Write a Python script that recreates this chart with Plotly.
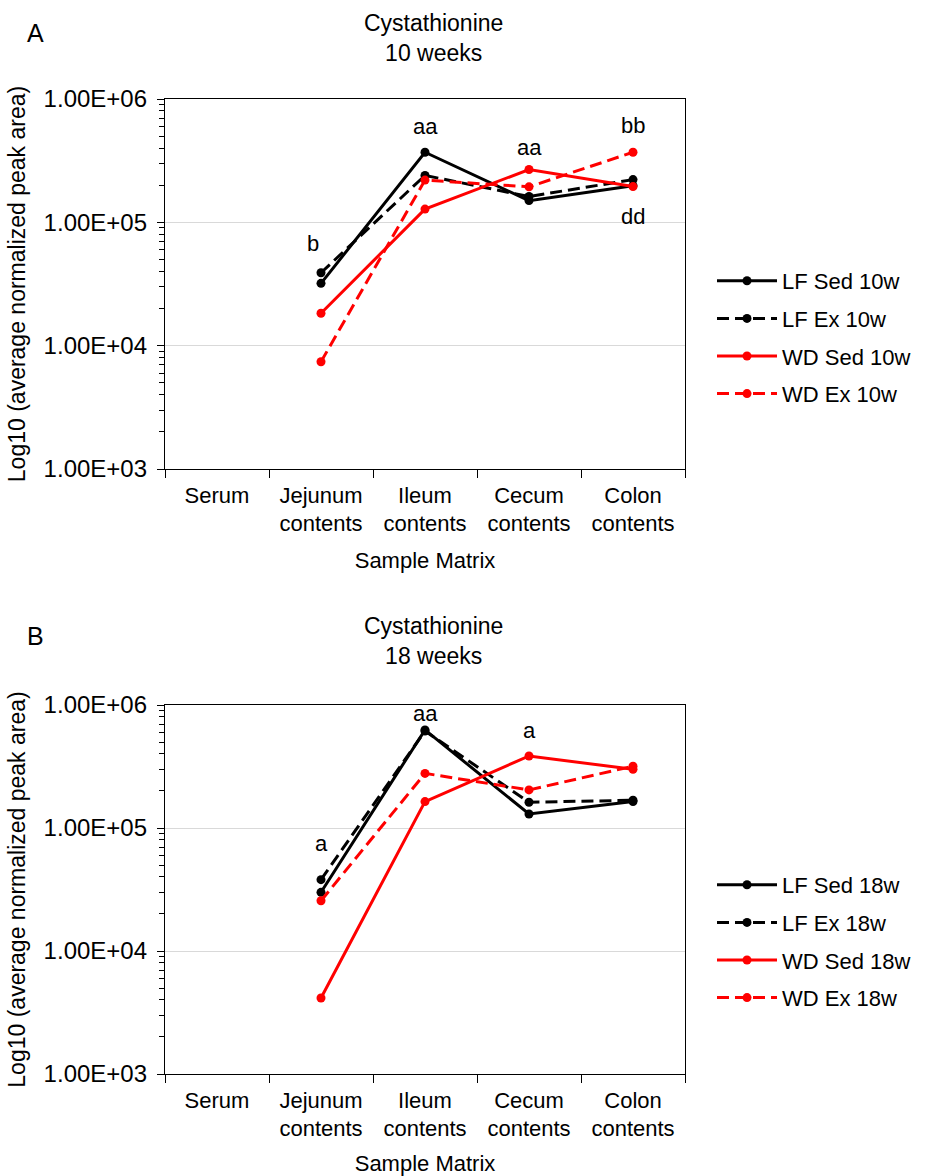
import plotly.graph_objects as go

# Sample matrices along the x axis
categories = ["Serum", "Jejunum contents", "Ileum contents", "Cecum contents", "Colon contents"]
category_labels = ["Serum", "Jejunum<br>contents", "Ileum<br>contents", "Cecum<br>contents", "Colon<br>contents"]
measured = ["Jejunum contents", "Ileum contents", "Cecum contents", "Colon contents"]

# Average normalized peak areas, 10 weeks
lf_sed_10w = [32000, 370000, 150000, 198000]
lf_ex_10w = [39000, 240000, 162000, 222000]
wd_sed_10w = [18300, 128000, 268000, 195000]
wd_ex_10w = [7400, 220000, 194000, 370000]

# Average normalized peak areas, 18 weeks
lf_sed_18w = [30000, 627000, 130000, 164000]
lf_ex_18w = [38000, 615000, 162000, 168000]
wd_sed_18w = [4150, 164000, 385000, 300000]
wd_ex_18w = [25600, 278000, 204000, 318000]

y_tickvals = [1e3, 1e4, 1e5, 1e6]
y_ticktext = ["1.00E+03", "1.00E+04", "1.00E+05", "1.00E+06"]

# Significance letters: (category, log10 position, text, horizontal shift)
letters_10w = [("Jejunum contents", 4.832, "b", -8),
               ("Ileum contents", 5.773, "aa", 0),
               ("Cecum contents", 5.603, "aa", 0),
               ("Colon contents", 5.789, "bb", 0),
               ("Colon contents", 5.051, "dd", 0)]
letters_18w = [("Jejunum contents", 4.878, "a", 0),
               ("Ileum contents", 5.935, "aa", 0),
               ("Cecum contents", 5.791, "a", 0)]

FONT = "Liberation Sans, Arial, sans-serif"
FS = 22
BLACK = "#000000"
RED = "#FF0000"
DASH = "12px,6px"

fig = go.Figure()

series_10w = [("LF Sed 10w", lf_sed_10w, BLACK, "solid"),
              ("LF Ex 10w", lf_ex_10w, BLACK, DASH),
              ("WD Sed 10w", wd_sed_10w, RED, "solid"),
              ("WD Ex 10w", wd_ex_10w, RED, DASH)]
series_18w = [("LF Sed 18w", lf_sed_18w, BLACK, "solid"),
              ("LF Ex 18w", lf_ex_18w, BLACK, DASH),
              ("WD Sed 18w", wd_sed_18w, RED, "solid"),
              ("WD Ex 18w", wd_ex_18w, RED, DASH)]

for name, vals, col, dash in series_10w:
    fig.add_trace(go.Scatter(
        x=measured, y=vals, name=name, mode="lines+markers",
        line=dict(color=col, width=3, dash=dash),
        marker=dict(color=col, size=9, symbol="circle"),
        xaxis="x", yaxis="y", legend="legend", legendgroup=name))

for name, vals, col, dash in series_18w:
    fig.add_trace(go.Scatter(
        x=measured, y=vals, name=name, mode="lines+markers",
        line=dict(color=col, width=3, dash=dash),
        marker=dict(color=col, size=9, symbol="circle"),
        xaxis="x2", yaxis="y2", legend="legend2", legendgroup=name))

minor_vals = [m * 10 ** e for e in range(3, 6) for m in range(2, 10)]

def xaxis_style(anchor):
    return dict(
        type="category", categoryorder="array", categoryarray=categories,
        tickmode="array", tickvals=categories, ticktext=category_labels,
        range=[-0.5, 4.5], tickson="boundaries", ticks="outside", ticklen=8,
        tickcolor=BLACK, showline=True, linecolor=BLACK, linewidth=1.3, mirror=True,
        showgrid=False, zeroline=False, anchor=anchor, automargin=False,
        ticklabelstandoff=6,
        tickfont=dict(family=FONT, size=FS, color=BLACK),
        title=dict(text="Sample Matrix", font=dict(family=FONT, size=FS, color=BLACK), standoff=17),
        domain=[165 / 925, 685 / 925])

def yaxis_style(anchor, dom):
    return dict(
        type="log", range=[3, 6], tickmode="array", tickvals=y_tickvals, ticktext=y_ticktext,
        ticks="outside", ticklen=7, tickcolor=BLACK, ticklabelstandoff=5,
        minor=dict(tickmode="array", tickvals=minor_vals, ticks="outside", ticklen=5,
                   tickcolor=BLACK, showgrid=False),
        showline=True, linecolor=BLACK, linewidth=1.3, mirror=True,
        showgrid=True, gridcolor="#d9d9d9", gridwidth=1, zeroline=False, anchor=anchor,
        automargin=False,
        tickfont=dict(family=FONT, size=24, color=BLACK),
        title=dict(text="Log10 (average normalized peak area)",
                   font=dict(family=FONT, size=23, color=BLACK), standoff=11),
        domain=dom)

H = 1176
fig.update_layout(
    width=925, height=H, autosize=False, margin=dict(l=0, r=0, t=0, b=0, pad=0),
    paper_bgcolor="white", plot_bgcolor="white",
    font=dict(family=FONT, size=FS, color=BLACK),
    xaxis=xaxis_style("y"),
    yaxis=yaxis_style("x", [1 - 469 / H, 1 - 99 / H]),
    xaxis2=xaxis_style("y2"),
    yaxis2=yaxis_style("x2", [1 - 1074 / H, 1 - 705 / H]),
    legend=dict(x=712 / 925, y=1 - 260 / H, xanchor="left", yanchor="top",
                font=dict(family=FONT, size=FS, color=BLACK), itemwidth=60,
                tracegroupgap=6, bgcolor="rgba(0,0,0,0)"),
    legend2=dict(x=712 / 925, y=1 - 864 / H, xanchor="left", yanchor="top",
                 font=dict(family=FONT, size=FS, color=BLACK), itemwidth=60,
                 tracegroupgap=6, bgcolor="rgba(0,0,0,0)"),
    showlegend=True,
)

annotations = []
for cat, ly, txt, xs in letters_10w:
    annotations.append(dict(x=cat, y=ly, xref="x", yref="y", text=txt, showarrow=False,
                            xshift=xs, xanchor="center", yanchor="middle",
                            font=dict(family=FONT, size=FS, color=BLACK)))
for cat, ly, txt, xs in letters_18w:
    annotations.append(dict(x=cat, y=ly, xref="x2", yref="y2", text=txt, showarrow=False,
                            xshift=xs, xanchor="center", yanchor="middle",
                            font=dict(family=FONT, size=FS, color=BLACK)))

# Panel letters and titles
for letter, ty in (("A", 33), ("B", 636)):
    annotations.append(dict(x=35 / 925, y=1 - ty / H, xref="paper", yref="paper", text=letter,
                            showarrow=False, xanchor="center", yanchor="middle",
                            font=dict(family=FONT, size=25, color=BLACK)))
for title, ty in (("Cystathionine<br>10 weeks", 38), ("Cystathionine<br>18 weeks", 641)):
    annotations.append(dict(x=433 / 925, y=1 - ty / H, xref="paper", yref="paper", text=title,
                            showarrow=False, align="center", xanchor="center", yanchor="middle",
                            font=dict(family=FONT, size=FS + 1, color=BLACK)))

fig.update_layout(annotations=annotations)

fig.write_html("out.html")
